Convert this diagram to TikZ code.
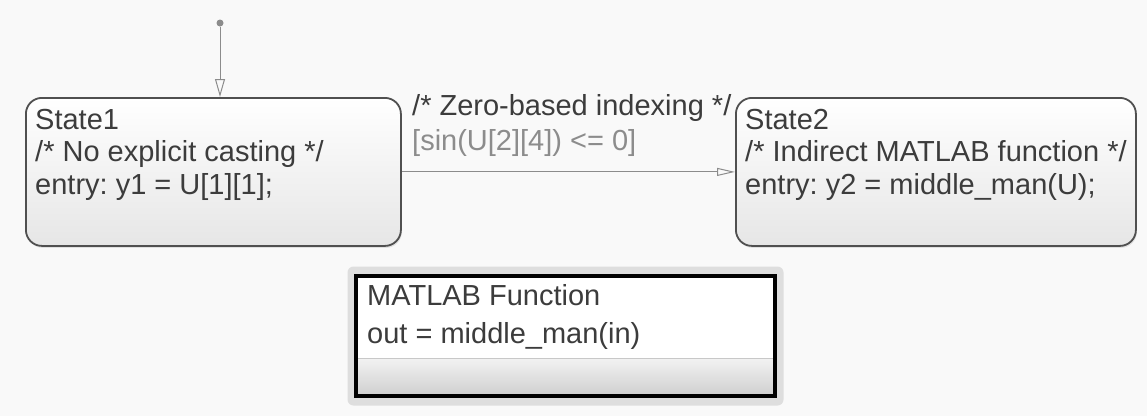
\documentclass[tikz,border=0pt]{standalone}
\usepackage{fontspec}
\setmainfont{Liberation Sans}
\frenchspacing
\definecolor{bggray}{RGB}{249, 249, 249}
\definecolor{txtgray}{RGB}{60, 60, 60}
\definecolor{linegray}{RGB}{140, 140, 140}
\definecolor{bordgray}{RGB}{80, 80, 80}
\definecolor{shadegray}{RGB}{230, 230, 230}
\definecolor{framegray}{RGB}{222, 222, 222}
\definecolor{sepgray}{RGB}{200, 200, 200}
\usetikzlibrary{arrows.meta, positioning, calc, shadows}

\begin{document}
\begin{tikzpicture}[x=1pt, y=-1pt,
  statebox/.style={draw=bordgray, line width=1.8pt, rounded corners=16pt, top color=white, bottom color=shadegray,
    drop shadow={opacity=0.2, shadow xshift=1pt, shadow yshift=-2pt}, inner sep=0pt, anchor=north west},
  stlabel/.style={font=\fontsize{29}{32.5}\selectfont, text=txtgray, align=left, inner sep=0pt, anchor=north west},
  trans/.style={draw=linegray, line width=1pt, -{Triangle[open, length=18pt, width=10pt, line width=1pt]}}]
  % background and frame
  \useasboundingbox (0, 0) rectangle (1147, 416);
  \fill[bggray] (0, 0) rectangle (1147, 416);

  % States
  \node[statebox, minimum width=375pt, minimum height=148pt] (state1) at (25, 97) {};
  \node[stlabel] (state1text) at (35, 109) {State1\\/* No explicit casting */\\entry: y1 = U[1][1];};
  \node[statebox, minimum width=400pt, minimum height=148pt] (state2) at (735, 97) {};
  \node[stlabel] (state2text) at (745, 109) {State2\\/* Indirect MATLAB function */\\entry: y2 = middle\_man(U);};

  % Default transition
  \node[circle, fill=linegray, inner sep=0pt, minimum size=7pt] (init) at (220, 23) {};
  \draw[trans] (init) -- (init |- state1.north);

  % Transition State1 -> State2
  \draw[trans, -{Triangle[open, length=18pt, width=8pt, line width=1pt]}] (state1.east) -- (state2.west);
  \node[stlabel, font=\fontsize{29}{35}\selectfont] (guard) at (412, 94.5) {/* Zero-based indexing */\\\textcolor{linegray}{[sin(U[2][4]) <= 0]}};

  % MATLAB Function block
  \node[fill=framegray, rounded corners=6pt, minimum width=436pt, minimum height=139pt] (fnframe) at (565.5, 336) {};
  \node[fill=white, minimum width=418.5pt, minimum height=120pt, inner sep=0pt] (fnbox) at (fnframe.center) {};
  \shade[top color=white!95!black, bottom color=shadegray!90!black] (357, 358) rectangle (775.5, 395.5);
  \draw[sepgray, line width=1pt] (357, 358) -- (775.5, 358);
  \draw[black, line width=4.5pt] (fnbox.north west) rectangle (fnbox.south east);
  \node[stlabel] (fntitle) at (367, 284.5) {MATLAB Function};
  \node[stlabel] (fnsig) at (367, 322.5) {out = middle\_man(in)};
\end{tikzpicture}
\end{document}
